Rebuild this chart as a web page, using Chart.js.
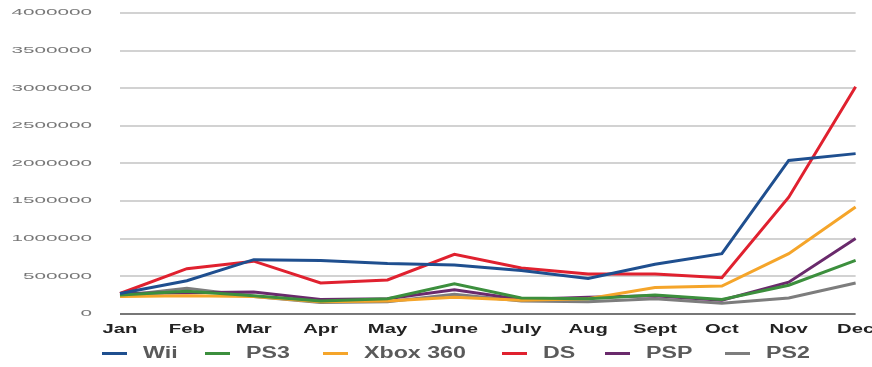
<!DOCTYPE html>
<html>
<head>
    <title>Console Sales by Month</title>
    <script src="https://cdn.jsdelivr.net/npm/chart.js"></script>
    <style>
        body {
            margin: 0;
            padding: 0;
            background: #ffffff;
            font-family: "Liberation Sans", Arial, sans-serif;
        }
        .wrap {
            position: relative;
            width: 872px;
            height: 367px;
        }
        .legend-item {
            position: absolute;
            top: 344px;
            height: 18px;
            display: flex;
            align-items: center;
        }
        .legend-item .swatch {
            width: 25px;
            height: 3px;
            margin-right: 16px;
        }
        .legend-item .name {
            display: inline-block;
            font-size: 16px;
            font-weight: bold;
            color: #5a5a5a;
            transform: scaleX(1.45);
            transform-origin: left center;
            white-space: nowrap;
        }
    </style>
</head>
<body>
<div class="wrap">
    <canvas id="chart" width="872" height="367"></canvas>
    <div id="legend"></div>
</div>

<script>
    // months and unit sales
    const months = ['Jan', 'Feb', 'Mar', 'Apr', 'May', 'June', 'July', 'Aug', 'Sept', 'Oct', 'Nov', 'Dec'];
    const yTicks = [0, 500000, 1000000, 1500000, 2000000, 2500000, 3000000, 3500000, 4000000];

    const wii    = [270000, 440000, 720000, 710000, 670000, 650000, 575000, 470000, 660000, 800000, 2040000, 2130000];
    const ps3    = [250000, 300000, 240000, 170000, 200000, 400000, 210000, 200000, 250000, 190000, 380000, 710000];
    const xbox   = [230000, 240000, 230000, 160000, 170000, 220000, 180000, 200000, 350000, 370000, 800000, 1420000];
    const ds     = [270000, 600000, 700000, 410000, 450000, 790000, 610000, 530000, 530000, 480000, 1550000, 3020000];
    const psp    = [270000, 280000, 290000, 190000, 200000, 320000, 190000, 220000, 240000, 180000, 420000, 1000000];
    const ps2    = [240000, 340000, 230000, 150000, 160000, 260000, 170000, 160000, 200000, 140000, 210000, 410000];

    const seriesNames = ['Wii', 'PS3', 'Xbox 360', 'DS', 'PSP', 'PS2'];
    const seriesData = [wii, ps3, xbox, ds, psp, ps2];
    const seriesColors = ['#1f4f8f', '#3c8f3d', '#f5a52a', '#e0212f', '#6a2a6c', '#7d7d7d'];

    // the picture's text is stretched sideways, so each tick label is widened around its anchor
    function stretchLabels(scale, sx) {
        const orig = scale.drawLabels;
        scale.drawLabels = function(area) {
            const ctx = this.ctx;
            ctx.translate = function(x, y) {
                CanvasRenderingContext2D.prototype.translate.call(ctx, x, y);
                ctx.scale(sx, 1);
            };
            try {
                orig.call(this, area);
            } finally {
                delete ctx.translate;
            }
        };
    }

    const stretchPlugin = {
        id: 'stretch',
        afterUpdate(chart) {
            if (chart._stretched) return;
            stretchLabels(chart.scales.x, 1.5);
            stretchLabels(chart.scales.y, 2.3);
            chart._stretched = true;
        }
    };

    const datasets = seriesNames.map((name, i) => ({
        label: name,
        data: seriesData[i],
        borderColor: seriesColors[i],
        backgroundColor: seriesColors[i],
        borderWidth: 3,
        pointRadius: 0,
        tension: 0,
        fill: false
    }));

    const chart = new Chart(document.getElementById('chart').getContext('2d'), {
        type: 'line',
        data: { labels: months, datasets: datasets },
        plugins: [stretchPlugin],
        options: {
            responsive: false,
            animation: false,
            layout: {
                padding: { top: 13, right: 10, bottom: 26, left: 0 }
            },
            plugins: {
                legend: { display: false },
                tooltip: { enabled: false }
            },
            scales: {
                x: {
                    offset: false,
                    grid: { display: false, drawTicks: true, tickLength: 3 },
                    border: { display: false },
                    ticks: {
                        padding: 4,
                        color: '#222',
                        maxRotation: 0,
                        autoSkip: false,
                        font: { family: 'Liberation Sans', size: 13.5, weight: 'bold' }
                    }
                },
                y: {
                    min: 0,
                    max: 4000000,
                    afterBuildTicks(scale) {
                        scale.ticks = yTicks.map(v => ({ value: v }));
                    },
                    afterFit(scale) {
                        scale.width = 120;
                    },
                    grid: {
                        drawTicks: true,
                        tickLength: 28,
                        tickColor: 'rgba(0,0,0,0)',
                        color: ctx => ctx.tick.value === 0 ? '#777' : '#d2d2d2',
                        lineWidth: 2
                    },
                    border: { display: false },
                    ticks: {
                        padding: 0,
                        color: '#777',
                        font: { family: 'Liberation Sans', size: 9 },
                        callback: v => String(v)
                    }
                }
            }
        }
    });
    chart.draw();

    // legend below the plot
    const legendLeft = [102, 205, 323, 502, 605, 725];
    const legend = document.getElementById('legend');
    seriesNames.forEach((name, i) => {
        const item = document.createElement('div');
        item.className = 'legend-item';
        item.style.left = legendLeft[i] + 'px';
        item.innerHTML = '<span class="swatch" style="background:' + seriesColors[i] + '"></span>' +
            '<span class="name">' + name + '</span>';
        legend.appendChild(item);
    });
</script>
</body>
</html>
